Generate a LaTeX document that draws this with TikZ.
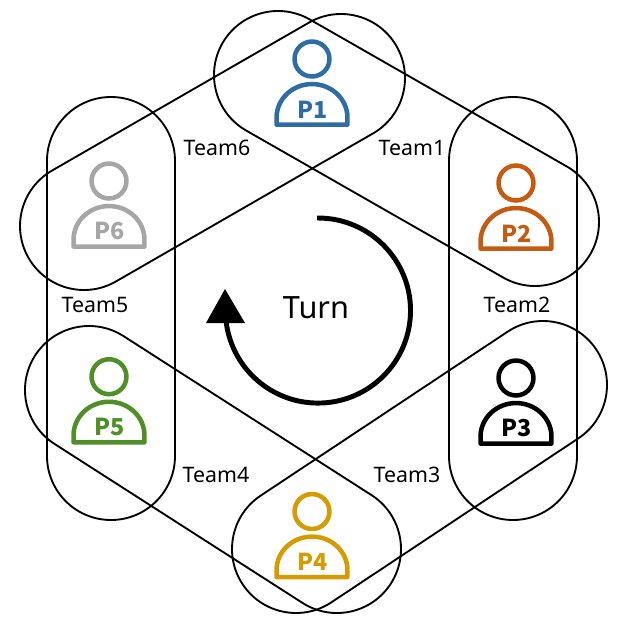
\documentclass[tikz,border=0pt]{standalone}
\usepackage{fontspec}
\setmainfont{Noto Sans}
\newfontfamily\plabelfont{Noto Sans CJK KR}
\definecolor{cP1}{HTML}{2E6DA4}
\definecolor{cP2}{HTML}{C55A11}
\definecolor{cP3}{HTML}{000000}
\definecolor{cP4}{HTML}{D69B00}
\definecolor{cP5}{HTML}{4E8F27}
\definecolor{cP6}{HTML}{A6A6A6}
\tikzset{
  capsule/.style={draw=black,line width=1.4pt},
  teamlabel/.style={font=\fontsize{16}{18}\selectfont,text=black,inner sep=0pt},
  turnlabel/.style={font=\fontsize{23}{26}\selectfont,text=black,inner sep=0pt},
  personlabel/.style={font=\plabelfont\fontsize{17.5}{19}\selectfont\bfseries,inner sep=0pt},
}
\newcommand{\capsuleband}[4]{%
  \pgfmathsetmacro\capang{atan2(-(#4-#2),#3-#1)}%
  \pgfmathsetmacro\caplen{veclen(#3-#1,#4-#2)*0.75}%
  \draw[capsule,shift={(#1,#2)},rotate=\capang]
    (0pt,48pt) -- (\caplen pt,48pt) arc[start angle=90,end angle=-90,radius=48pt]
    -- (0pt,-48pt) arc[start angle=270,end angle=90,radius=48pt] -- cycle;}
\newcommand{\person}[4]{%
  \begin{scope}[shift={(#2,#3)}]
    \draw[#4,line width=3.4pt] (0pt,0pt) circle[radius=13.1pt];
    \draw[#4,line width=3.4pt,line join=round]
      (-26.6pt,-49.2pt) -- (-26.6pt,-44pt) arc[start angle=180,end angle=0,x radius=26.6pt,y radius=25.2pt] -- (26.6pt,-49.2pt) -- cycle;
    \node[personlabel,text=#4] (#1) at (0.5pt,-37.8pt) {#1};
  \end{scope}}
\begin{document}
\begin{tikzpicture}[x=0.75pt,y=-0.75pt]
\useasboundingbox (0,0) rectangle (618,633);
\capsuleband{111}{161}{111}{456}
\capsuleband{513}{161}{513}{456}
\capsuleband{341}{78}{84}{226}
\capsuleband{278}{75}{535}{222}
\capsuleband{543}{385}{296}{549}
\capsuleband{89}{390}{337}{549}
\person{P1}{312}{59}{cP1}
\person{P2}{516}{183}{cP2}
\person{P3}{516}{378}{cP3}
\person{P4}{312}{511.5}{cP4}
\person{P5}{109}{376.7}{cP5}
\person{P6}{109}{181}{cP6}
\node[teamlabel] (t1) at (412,148) {Team1};
\node[teamlabel] (t2) at (517,305) {Team2};
\node[teamlabel] (t3) at (407,475) {Team3};
\node[teamlabel] (t4) at (216,475) {Team4};
\node[teamlabel] (t5) at (95,305) {Team5};
\node[teamlabel] (t6) at (217,148) {Team6};
\node[turnlabel] (turn) at (316,308) {Turn};
\coordinate (arcstart) at (317,218);
\draw[black,line width=3.7pt] (arcstart) -- (318,218) arc[start angle=90,end angle=-187,radius=69.4pt] coordinate (arcend);
\fill[black] (225,289) -- (245,323) -- (206,323) -- cycle;
\end{tikzpicture}
\end{document}
